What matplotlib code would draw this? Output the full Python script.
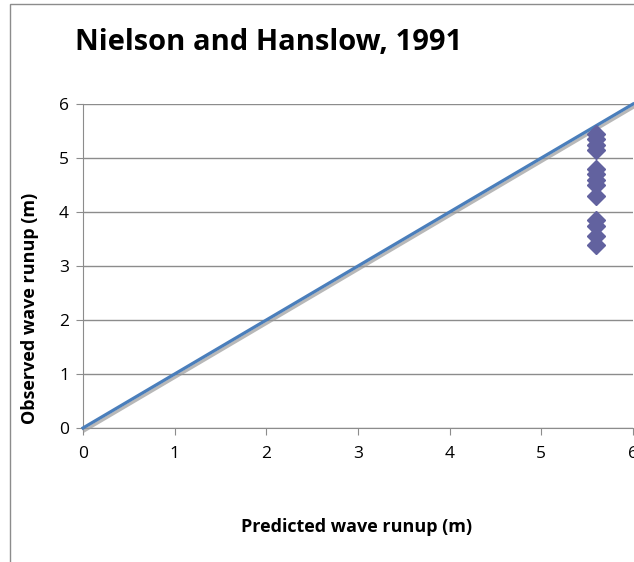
import numpy as np
import matplotlib.pyplot as plt
import matplotlib.patheffects as pe
from matplotlib.patches import Rectangle

plt.rcParams['font.family'] = ['Open Sans', 'DejaVu Sans']

# observed vs predicted runup
predicted = [5.6] * 13
observed = [5.45, 5.35, 5.25, 5.15,
            4.8, 4.7, 4.6, 4.5, 4.3,
            3.85, 3.75, 3.55, 3.38]

# 1:1 reference line
line_x = [0, 6]
line_y = [0, 6]

ticks = [0, 1, 2, 3, 4, 5, 6]

W, H = 634, 562
fig = plt.figure(figsize=(W / 100, H / 100), dpi=100)

# chart frame
fig.patches.append(Rectangle((10 / W, -0.1), 1.2, 1 - 4 / H + 0.1,
                             transform=fig.transFigure, fill=False,
                             edgecolor='#8c8c8c', linewidth=1.0))

ax = fig.add_axes([83 / W, (H - 428) / H, 550 / W, 324 / H])
ax.set_xlim(0, 6)
ax.set_ylim(0, 6)
ax.set_xticks(ticks)
ax.set_yticks(ticks)
ax.grid(axis='y', color='#8c8c8c', linewidth=1.0)
ax.set_axisbelow(True)
for s in ['top', 'right']:
    ax.spines[s].set_visible(False)
for s in ['left', 'bottom']:
    ax.spines[s].set_color('#8c8c8c')
ax.tick_params(colors='#8c8c8c', length=5, labelcolor='black', labelsize=12.5, pad=5)
ax.tick_params(axis='x', pad=8)

ax.plot(line_x, line_y, color='#4a7ebb', linewidth=2.3, clip_on=False, zorder=3,
        path_effects=[pe.SimpleLineShadow(offset=(1.2, -1.8), shadow_color='#9a9a9a', alpha=0.7),
                      pe.Normal()])
ax.plot(predicted, observed, linestyle='none', marker='D', markersize=9.5,
        color='#62629f', zorder=4)

fig.text(269 / W, 1 - 43 / H, 'Nielson and Hanslow, 1991', ha='center', va='center',
         fontsize=21, fontweight='bold')
fig.text(357 / W, 1 - 527 / H, 'Predicted wave runup (m)', ha='center', va='center',
         fontsize=13, fontweight='bold')
fig.text(30 / W, 1 - 308 / H, 'Observed wave runup (m)', ha='center', va='center',
         rotation=90, fontsize=13, fontweight='bold')

fig.savefig('out.png', dpi=100)
